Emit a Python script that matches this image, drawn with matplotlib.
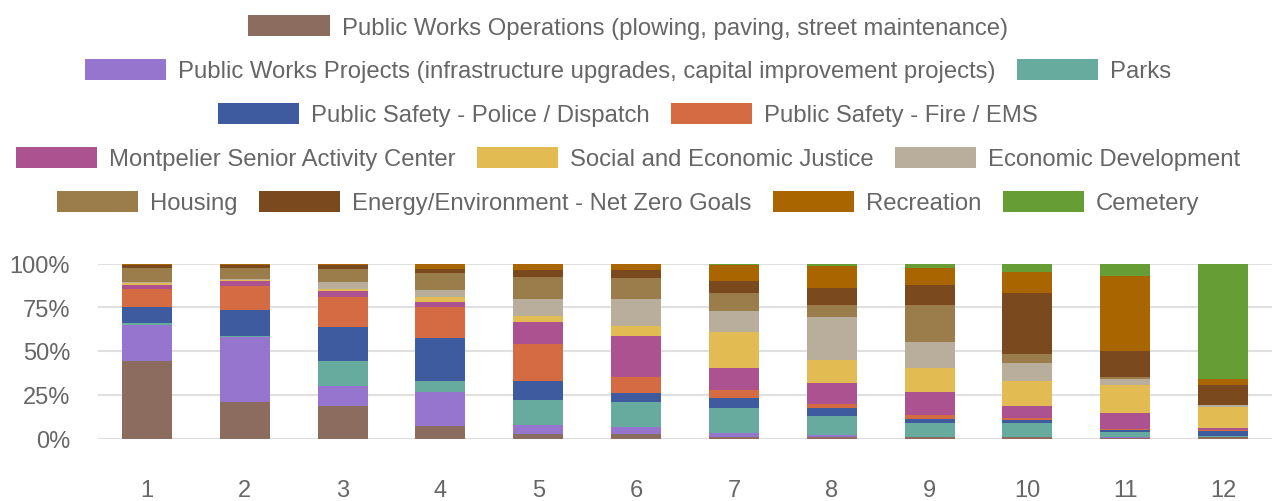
import numpy as np
import matplotlib
matplotlib.use("Agg")
import matplotlib.pyplot as plt
from matplotlib.patches import Patch

plt.rcParams['font.family'] = ['Liberation Sans', 'DejaVu Sans']

## data (% of each bar)
groups = ['1', '2', '3', '4', '5', '6', '7', '8', '9', '10', '11', '12']

pwo = [44.4, 21.0, 18.7, 7.2, 2.5, 2.5, 1.0, 0.6, 0.6, 0.6, 0.2, 0.8]
pwp = [20.4, 37.1, 11.4, 19.1, 5.1, 3.8, 1.9, 1.3, 0.2, 0.2, 0.6, 0.2]
parks = [1.5, 0.8, 14.3, 6.3, 14.5, 14.8, 14.8, 11.0, 7.8, 8.0, 3.0, 0.2]
police = [9.1, 15.0, 19.2, 25.1, 10.5, 5.0, 5.2, 4.8, 2.3, 1.9, 1.2, 3.2]
fire = [9.9, 13.7, 17.0, 17.5, 21.3, 9.1, 4.9, 2.3, 2.6, 0.9, 0.2, 0.3]
senior = [2.3, 2.5, 3.8, 2.9, 12.8, 23.3, 12.4, 11.8, 12.8, 7.1, 9.5, 1.5]
social = [1.2, 0.8, 1.3, 3.0, 3.4, 5.9, 20.9, 13.2, 13.9, 14.3, 16.0, 11.8]
econ = [0.8, 0.3, 3.8, 3.7, 9.5, 15.2, 11.9, 24.5, 15.0, 10.2, 3.2, 1.1]
housing = [8.2, 6.4, 7.6, 9.5, 12.8, 12.0, 9.9, 6.9, 21.2, 5.0, 1.0, 0.2]
energy = [1.5, 1.7, 1.9, 2.5, 3.8, 4.6, 7.2, 9.7, 11.2, 34.7, 15.2, 11.1]
recreation = [0.8, 1.0, 1.0, 3.2, 3.8, 3.8, 8.9, 12.6, 10.1, 12.5, 42.5, 3.8]
cemetery = [0, 0, 0, 0, 0, 0, 1.0, 1.3, 2.3, 4.6, 7.4, 65.7]

labels = [
    'Public Works Operations (plowing, paving, street maintenance)',
    'Public Works Projects (infrastructure upgrades, capital improvement projects)',
    'Parks',
    'Public Safety - Police / Dispatch',
    'Public Safety - Fire / EMS',
    'Montpelier Senior Activity Center',
    'Social and Economic Justice',
    'Economic Development',
    'Housing',
    'Energy/Environment - Net Zero Goals',
    'Recreation',
    'Cemetery',
]
series = [pwo, pwp, parks, police, fire, senior, social, econ, housing, energy, recreation, cemetery]
colors = ['#8c6c5f', '#9575cd', '#67ab9f', '#3f5b9f', '#d46b43', '#ac5290',
          '#e2bb53', '#b9ae9c', '#9a7d4b', '#7a491d', '#a86500', '#669d35']

# rows of the legend (indices into labels)
legend_rows = [[0], [1, 2], [3, 4], [5, 6, 7], [8, 9, 10, 11]]

## tracé
data = np.array(series, dtype=float)
data = data / data.sum(axis=0) * 100  # 100% stacked

fig = plt.figure(figsize=(12.72, 5.02), dpi=100)
ax = fig.add_axes([98 / 1272, 62.5 / 502, 1 - 98 / 1272, 175 / 502])

x = np.arange(1, len(groups) + 1)
bottom = np.zeros(len(groups))
for vals, col, lab in zip(data, colors, labels):
    ax.bar(x, vals, 0.51, bottom=bottom, color=col, label=lab, linewidth=0)
    bottom += vals

ax.set_xlim(0.5, len(groups) + 0.5)
ax.set_ylim(0, 100)
ax.set_yticks([0, 25, 50, 75, 100])
ax.set_yticklabels(['0%', '25%', '50%', '75%', '100%'])
ax.set_xticks(x)
ax.set_xticklabels(groups)
ax.tick_params(axis='both', length=0, labelsize=17, colors='#666666')
ax.tick_params(axis='y', pad=20)
ax.tick_params(axis='x', pad=29)
for s in ax.spines.values():
    s.set_visible(False)
ax.set_axisbelow(True)
ax.yaxis.grid(True, color='#e0e0e0', linewidth=1.5)
ax.axhline(0, color='#cccccc', linewidth=1.5, zorder=0.5)

# legend, one centred row at a time
row_y = [27.8, 71.5, 115.5, 159.5, 203.5]
for row, yc in zip(legend_rows, row_y):
    handles = [Patch(facecolor=colors[i], edgecolor='none') for i in row]
    leg = fig.legend(handles, [labels[i] for i in row], loc='center',
                     bbox_to_anchor=(628 / 1272, 1 - yc / 502), ncol=len(row),
                     frameon=False, fontsize=17.2, handlelength=3.4, handleheight=1.0,
                     handletextpad=0.5, columnspacing=0.9, borderpad=0, borderaxespad=0)
    for t in leg.get_texts():
        t.set_color('#666666')

fig.savefig('out.png', dpi=100)
